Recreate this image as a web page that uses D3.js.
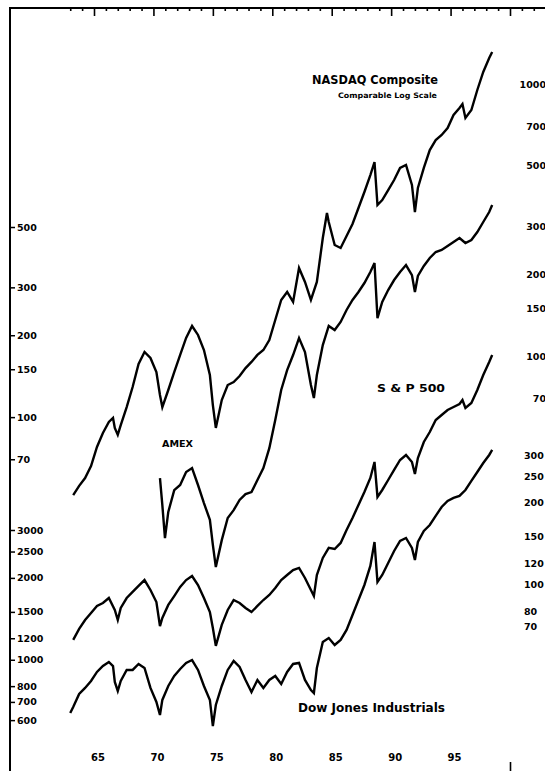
<!DOCTYPE html>
<html><head><meta charset="utf-8">
<script src="https://cdn.jsdelivr.net/npm/d3@7"></script>
<style>html,body{margin:0;padding:0;background:#fff;overflow:hidden}</style>
</head><body>
<svg id="c" width="545" height="771"></svg>
<script>
// ---- data (decimal year, index value) ----
const nasdaq = [[1963.25,30.8],[1963.75,33.3],[1964.25,35.6],[1964.75,39.4],[1965.25,46.3],[1965.75,52.1],[1966.25,57.2],[1966.6,59.2],[1966.75,54.4],[1967.0,51.3],[1967.25,55.7],[1967.75,64.9],[1968.25,76.9],[1968.75,93.5],[1969.25,103.5],[1969.75,98.3],[1970.25,87.3],[1970.55,71.9],[1970.75,64.9],[1971.25,75.0],[1971.75,87.3],[1972.25,100.9],[1972.75,116.5],[1973.25,128.9],[1973.75,119.5],[1974.25,105.2],[1974.75,85.1],[1975.0,66.0],[1975.25,54.4],[1975.75,68.9],[1976.25,78.2],[1976.75,80.2],[1977.25,84.4],[1977.75,90.3],[1978.25,95.1],[1978.75,100.9],[1979.25,105.2],[1979.75,114.5],[1980.25,135.6],[1980.75,160.7],[1981.25,171.9],[1981.75,158.0],[1982.25,210.7],[1982.75,187.1],[1983.25,160.7],[1983.75,187.1],[1984.25,271.5],[1984.6,335.6],[1984.75,311.0],[1985.25,255.9],[1985.75,249.5],[1986.25,276.1],[1986.75,305.7],[1987.25,350.0],[1987.75,400.9],[1988.25,462.5],[1988.6,516.7],[1988.85,359.1],[1989.25,374.6],[1989.75,407.6],[1990.25,443.6],[1990.75,491.2],[1991.25,503.7],[1991.75,425.4],[1992.0,338.2],[1992.25,414.6],[1992.75,491.2],[1993.25,571.7],[1993.75,622.3],[1994.25,649.4],[1994.75,688.9],[1995.25,769.1],[1995.75,816.2],[1996.0,844.0],[1996.25,750.0],[1996.75,802.0],[1997.25,950.6],[1997.75,1107],[1998.25,1246],[1998.5,1311]];
const amex = [[1970.55,59.7],[1970.75,47.5],[1970.97,35.9],[1971.25,44.8],[1971.75,53.9],[1972.25,56.3],[1972.75,62.8],[1973.25,65.0],[1973.75,56.3],[1974.25,48.3],[1974.75,41.9],[1975.0,33.9],[1975.25,28.1],[1975.75,35.3],[1976.25,42.6],[1976.75,45.5],[1977.25,49.6],[1977.75,52.1],[1978.25,53.0],[1978.75,58.7],[1979.25,65.0],[1979.75,76.9],[1980.25,97.6],[1980.75,125.8],[1981.25,148.9],[1981.75,169.1],[1982.25,195.4],[1982.75,173.5],[1983.25,131.2],[1983.5,117.5],[1983.75,142.8],[1984.25,184.1],[1984.75,216.3],[1985.25,209.0],[1985.75,223.8],[1986.25,247.7],[1986.75,269.5],[1987.25,288.4],[1987.75,311.2],[1988.25,341.7],[1988.6,368.6],[1988.85,231.3],[1989.25,265.0],[1989.75,293.2],[1990.25,319.2],[1990.75,341.7],[1991.25,362.4],[1991.75,332.9],[1992.0,288.4],[1992.25,330.2],[1992.75,359.4],[1993.25,384.6],[1993.75,404.6],[1994.25,411.5],[1994.75,425.6],[1995.25,440.3],[1995.75,455.3],[1996.25,436.5],[1996.75,447.9],[1997.25,479.1],[1997.75,521.6],[1998.25,567.5],[1998.5,602.3]];
const sp500 = [[1963.25,62.7],[1963.75,68.8],[1964.25,74.2],[1964.75,78.8],[1965.25,83.6],[1965.75,85.7],[1966.25,89.4],[1966.75,80.8],[1967.0,74.2],[1967.25,82.2],[1967.75,89.4],[1968.25,94.1],[1968.75,99.0],[1969.25,104.1],[1969.75,95.7],[1970.25,86.4],[1970.55,70.5],[1970.75,75.5],[1971.25,84.3],[1971.75,90.9],[1972.25,98.2],[1972.75,104.1],[1973.25,107.7],[1973.75,99.8],[1974.25,89.4],[1974.75,79.4],[1975.0,69.4],[1975.25,59.6],[1975.75,71.2],[1976.25,80.8],[1976.75,87.9],[1977.25,85.7],[1977.75,82.2],[1978.25,79.4],[1978.75,83.6],[1979.25,87.9],[1979.75,91.7],[1980.25,97.3],[1980.75,104.1],[1981.25,108.6],[1981.75,113.3],[1982.25,115.3],[1982.75,105.9],[1983.25,95.7],[1983.5,90.9],[1983.75,108.6],[1984.25,125.5],[1984.75,136.6],[1985.25,135.4],[1985.75,142.5],[1986.25,159.0],[1986.75,176.1],[1987.25,196.5],[1987.75,219.4],[1988.25,247.0],[1988.6,282.8],[1988.85,210.3],[1989.25,223.1],[1989.75,242.8],[1990.25,264.3],[1990.75,287.6],[1991.25,300],[1991.75,282.8],[1992.0,255.5],[1992.25,292.5],[1992.75,335.0],[1993.25,364.5],[1993.75,403.4],[1994.25,421.0],[1994.75,439.2],[1995.25,450.5],[1995.75,462.1],[1996.0,477.7],[1996.25,446.6],[1996.75,466.1],[1997.25,520.3],[1997.75,590.8],[1998.25,659.4],[1998.5,699.8]];
const dow = [[1963.0,637.5],[1963.25,670.7],[1963.75,748.5],[1964.25,787.9],[1964.75,835.7],[1965.25,902],[1965.75,948.5],[1966.25,981.7],[1966.6,948.5],[1966.75,828.7],[1967.0,767.8],[1967.25,835.7],[1967.75,917.5],[1968.25,917.5],[1968.75,965.2],[1969.25,932.6],[1969.75,787.9],[1970.25,699.8],[1970.55,626.6],[1970.75,711.8],[1971.25,801],[1971.75,871.7],[1972.25,925],[1972.75,973.3],[1973.25,998],[1973.75,917.5],[1974.25,801],[1974.75,711.8],[1975.0,570.9],[1975.25,682.0],[1975.75,801],[1976.25,917.5],[1976.75,990],[1977.25,940.7],[1977.75,842.8],[1978.25,761.6],[1978.75,842.8],[1979.25,787.9],[1979.75,842.8],[1980.25,871.7],[1980.75,814.7],[1981.25,902],[1981.75,965.2],[1982.25,973.3],[1982.75,842.8],[1983.25,774.3],[1983.5,754.8],[1983.75,932.6],[1984.25,1163],[1984.75,1202],[1985.25,1133.6],[1985.75,1182.5],[1986.25,1287.3],[1986.75,1460.8],[1987.25,1659],[1987.75,1883.6],[1988.25,2213],[1988.6,2711],[1988.85,1932],[1989.25,2050],[1989.75,2269],[1990.25,2512],[1990.75,2734],[1991.25,2804],[1991.75,2577],[1992.0,2328],[1992.25,2711],[1992.75,2976],[1993.25,3130],[1993.75,3379],[1994.25,3646],[1994.75,3835],[1995.25,3935],[1995.75,4002],[1996.25,4210],[1996.75,4544],[1997.25,4902],[1997.75,5290],[1998.25,5662],[1998.5,5906]];

// ---- tick labels ----
const yearLabels = [1965,1970,1975,1980,1985,1990,1995];
const amexTicks = [500,300,200,150,100,70];
const dowTicks = [3000,2500,2000,1500,1200,1000,800,700,600];
const nasdaqTicks = [1000,700,500,300,200,150,100,70];
const spTicks = [300,250,200,150,120,100,80,70];

const svg = d3.select("#c");
const FONT = "DejaVu Sans";

const x = d3.scaleLinear().domain([1965, 2000]).range([94, 510]);
const DEC = 272; // pixels per decade, comparable log scale
const nasdaqY = d3.scaleLog().domain([1000, 100]).range([84, 84 + DEC]);
const amexY   = d3.scaleLog().domain([500, 50]).range([227, 227 + DEC]);
const spY     = d3.scaleLog().domain([300, 30]).range([455, 455 + DEC]);
const dowY    = d3.scaleLog().domain([3000, 300]).range([530, 530 + DEC]);

// frame
svg.append("line").attr("x1",10).attr("x2",545).attr("y1",8).attr("y2",8).attr("stroke","#000").attr("stroke-width",2);
svg.append("line").attr("x1",10).attr("x2",10).attr("y1",7).attr("y2",771).attr("stroke","#000").attr("stroke-width",2);

// top ticks
const years = d3.range(1963, 2003);
const minor = svg.append("g").attr("transform","translate(0,8)")
  .call(d3.axisBottom(x).tickValues(years.filter(y=>y%5)).tickSize(3).tickFormat(""));
const major = svg.append("g").attr("transform","translate(0,8)")
  .call(d3.axisBottom(x).tickValues(years.filter(y=>y%5===0)).tickSize(8).tickFormat(""));
[minor, major].forEach(g => { g.select(".domain").remove(); g.selectAll("line").attr("stroke-width",1.6); });

// bottom tick
svg.append("g").attr("transform","translate(0,771)")
  .call(d3.axisTop(x).tickValues([2000]).tickSize(9).tickFormat(""))
  .call(g => { g.select(".domain").remove(); g.selectAll("line").attr("stroke-width",1.6); });

// year labels
svg.append("g").selectAll("text").data(yearLabels).join("text")
  .attr("x", d => x(d) + 4).attr("y", 761)
  .attr("text-anchor","middle").attr("font-family",FONT).attr("font-weight","bold").attr("font-size",10)
  .text(d => String(d).slice(2));

function styleAxis(g){
  g.select(".domain").remove();
  g.attr("font-family", FONT).attr("font-size", 9.5).attr("font-weight","bold");
  g.selectAll("line").attr("stroke-width",1.5);
}
// left axes (labels inside frame)
svg.append("g").attr("transform","translate(10,0)")
  .call(d3.axisRight(amexY).tickValues(amexTicks).tickSize(5).tickPadding(2).tickFormat(d3.format("d")))
  .call(styleAxis);
svg.append("g").attr("transform","translate(10,0)")
  .call(d3.axisRight(dowY).tickValues(dowTicks).tickSize(5).tickPadding(2).tickFormat(d3.format("d")))
  .call(styleAxis);
// right axes
svg.append("g").attr("transform","translate(546,0)")
  .call(d3.axisLeft(nasdaqY).tickValues(nasdaqTicks).tickSize(0).tickPadding(0).tickFormat(d3.format("d")))
  .call(styleAxis);
svg.append("g").attr("transform","translate(524,0)")
  .call(d3.axisRight(spY).tickValues(spTicks).tickSize(0).tickPadding(0).tickFormat(d3.format("d")))
  .call(styleAxis);

// series
const series = [[nasdaq, nasdaqY],[amex, amexY],[sp500, spY],[dow, dowY]];
series.forEach(([data, y]) => {
  svg.append("path").datum(data)
    .attr("fill","none").attr("stroke","#000").attr("stroke-width",2.4).attr("stroke-linejoin","miter")
    .attr("d", d3.line().x(d => x(d[0])).y(d => y(d[1])));
});

// titles
function label(t, x0, yc, size, len, weight){
  svg.append("text").attr("x",x0).attr("y",yc).attr("dominant-baseline","central")
    .attr("font-family",FONT).attr("font-size",size).attr("font-weight",weight||"bold")
    .attr("textLength",len).attr("lengthAdjust","spacingAndGlyphs").text(t);
}
label("NASDAQ Composite", 312, 79, 12.5, 126);
label("Comparable Log Scale", 338, 95, 7.5, 99);
label("S & P 500", 377, 388, 11, 68);
label("AMEX", 162, 444, 9, 31);
label("Dow Jones Industrials", 298, 708, 12, 147);
</script>
</body></html>
